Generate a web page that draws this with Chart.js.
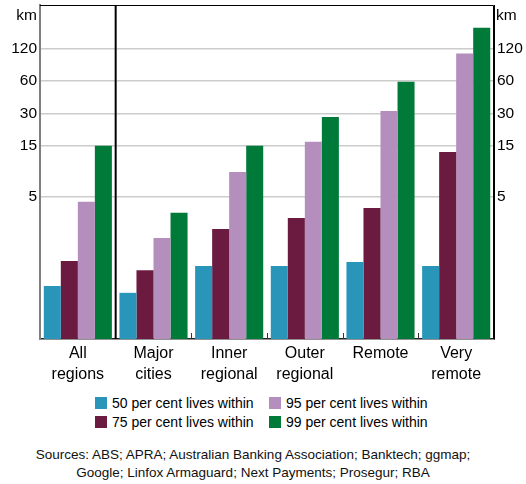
<!DOCTYPE html>
<html>
<head>
<meta charset="utf-8">
<script src="https://cdn.jsdelivr.net/npm/chart.js@4.4.1/dist/chart.umd.min.js"></script>
<style>
    html, body { margin: 0; padding: 0; background: #fff; }
    body { width: 526px; height: 484px; position: relative; overflow: hidden; font-family: "Liberation Sans", Arial, sans-serif; color: #000; }
    #wrap { position: absolute; left: 0; top: 0; width: 526px; height: 390px; }
    .legend { position: absolute; left: 95px; top: 396px; font-size: 14px; }
    .item { position: absolute; white-space: nowrap; line-height: 14px; }
    .sw { display: inline-block; width: 12px; height: 12px; vertical-align: -1px; margin-right: 5px; }
    .sources { position: absolute; left: 0; width: 506px; top: 446px; text-align: center; font-size: 13.5px; line-height: 17.5px; color: #111; }
</style>
</head>
<body>
<div id="wrap"><canvas id="chart"></canvas></div>
<div class="legend" id="legend"></div>
<div class="sources">Sources: ABS; APRA; Australian Banking Association; Banktech; ggmap;<br>Google; Linfox Armaguard; Next Payments; Prosegur; RBA</div>
<script>
// --- Data ---
const categories = [['All', 'regions'], ['Major', 'cities'], ['Inner', 'regional'], ['Outer', 'regional'], 'Remote', ['Very', 'remote']];
const within50 = [0.74, 0.64, 1.14, 1.14, 1.24, 1.14];
const within75 = [1.27, 1.04, 2.51, 3.18, 3.95, 13.1];
const within95 = [4.5, 2.07, 8.55, 16.3, 31.6, 108];
const within99 = [15, 3.56, 15, 27.8, 59, 188];
const yTicks = [5, 15, 30, 60, 120];
const seriesNames = ['50 per cent lives within', '75 per cent lives within', '95 per cent lives within', '99 per cent lives within'];

const colours = ['#2996b9', '#6b1a40', '#b48ebc', '#007a39'];
const FONT = '"Liberation Sans", Arial, sans-serif';

// --- HTML legend (column order: 50/75 left, 95/99 right) ---
const legendEl = document.getElementById('legend');
seriesNames.forEach((name, i) => {
    const item = document.createElement('div');
    item.className = 'item';
    item.style.left = (i < 2 ? 0 : 174) + 'px';
    item.style.top = (i % 2 === 0 ? 0 : 19) + 'px';
    item.innerHTML = `<span class="sw" style="background:${colours[i]}"></span>${name}`;
    legendEl.appendChild(item);
});

// --- Frame, separator, small category ticks, km labels ---
const framePlugin = {
    id: 'frame',
    afterDraw(chart) {
        const { ctx, chartArea: a, scales } = chart;
        const x = scales.x;
        ctx.save();
        // top and right border
        ctx.strokeStyle = '#000';
        ctx.lineWidth = 1;
        ctx.beginPath();
        ctx.moveTo(a.left, a.top + 0.5);
        ctx.lineTo(a.right - 0.5, a.top + 0.5);
        ctx.lineTo(a.right - 0.5, a.bottom);
        ctx.stroke();
        // separator between "All regions" and the rest
        const sep = (x.getPixelForValue(0) + x.getPixelForValue(1)) / 2;
        ctx.lineWidth = 2;
        ctx.beginPath();
        ctx.moveTo(sep, a.top);
        ctx.lineTo(sep, a.bottom);
        ctx.stroke();
        // small ticks between other categories
        ctx.lineWidth = 1;
        ctx.strokeStyle = '#333';
        for (let i = 1; i < categories.length - 1; i++) {
            const px = Math.round((x.getPixelForValue(i) + x.getPixelForValue(i + 1)) / 2) + 0.5;
            ctx.beginPath();
            ctx.moveTo(px, a.bottom);
            ctx.lineTo(px, a.bottom - 6);
            ctx.stroke();
        }
        // unit labels
        ctx.fillStyle = '#000';
        ctx.font = '15.5px ' + FONT;
        ctx.textBaseline = 'middle';
        ctx.textAlign = 'right';
        ctx.fillText('km', a.left - 3, a.top + 11);
        ctx.textAlign = 'left';
        ctx.fillText('km', a.right + 2, a.top + 11);
        ctx.restore();
    }
};

function yAxis(position, width) {
    return {
        type: 'logarithmic',
        position: position,
        min: 0.238,
        max: 306,
        afterBuildTicks: scale => { scale.ticks = yTicks.map(v => ({ value: v })); },
        afterFit: scale => {
            scale.width = width;
            scale.paddingTop = 0;
            scale.paddingBottom = 0;
        },
        ticks: {
            callback: v => String(v),
            color: '#000',
            font: { family: FONT, size: 15.5 },
            padding: 3
        },
        grid: {
            display: position === 'left',
            color: '#cccccc',
            lineWidth: 1.5,
            drawTicks: false
        },
        border: { display: true, color: position === 'left' ? '#7f7f7f' : '#000', width: position === 'left' ? 2 : 1 }
    };
}

new Chart(document.getElementById('chart'), {
    type: 'bar',
    data: {
        labels: categories,
        datasets: [within50, within75, within95, within99].map((d, i) => ({
            label: seriesNames[i],
            data: d,
            backgroundColor: colours[i],
            borderWidth: 0,
            categoryPercentage: 0.9,
            barPercentage: 1.0
        }))
    },
    options: {
        responsive: true,
        maintainAspectRatio: false,
        animation: false,
        layout: { padding: { top: 5, left: 0, right: 0, bottom: 0 } },
        plugins: {
            legend: { display: false },
            tooltip: { enabled: false }
        },
        scales: {
            x: {
                offset: true,
                afterFit: scale => { scale.height = 51; },
                grid: { display: false, drawTicks: false },
                border: { display: true, color: '#222', width: 1.5 },
                ticks: {
                    color: '#000',
                    font: { family: FONT, size: 16, lineHeight: 1.3 },
                    padding: 4,
                    maxRotation: 0,
                    autoSkip: false
                }
            },
            y: yAxis('left', 40),
            y2: yAxis('right', 32)
        }
    },
    plugins: [framePlugin]
});
</script>
</body>
</html>
